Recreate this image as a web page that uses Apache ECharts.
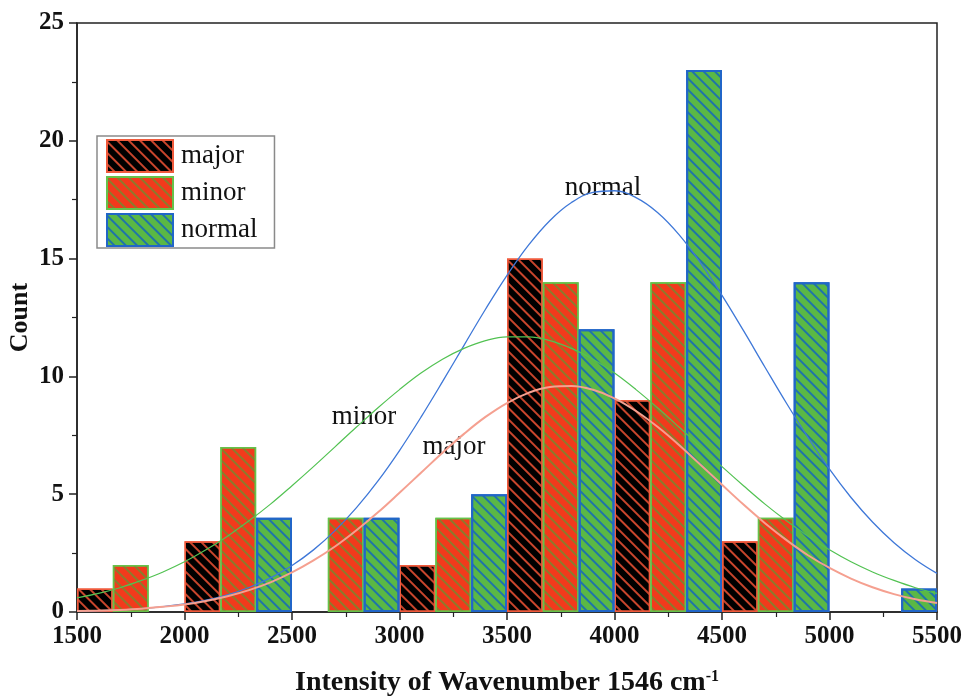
<!DOCTYPE html>
<html>
<head>
<meta charset="utf-8">
<script src="https://cdn.jsdelivr.net/npm/echarts@6/dist/echarts.min.js"></script>
<style>
html,body{margin:0;padding:0;background:#fff;}
#chart{width:964px;height:697px;}
</style>
</head>
<body>
<div id="chart"></div>
<script>
// ---- data ----
const binStarts = [1500, 2000, 2500, 3000, 3500, 4000, 4500, 5000];
const majorCounts  = [1, 3, 0, 2, 15, 9, 3, 0];
const minorCounts  = [2, 7, 4, 4, 14, 14, 4, 0];
const normalCounts = [0, 4, 4, 5, 12, 23, 14, 1];

const fitX = [1500,1600,1700,1800,1900,2000,2100,2200,2300,2400,2500,2600,2700,2800,2900,3000,3100,3200,3300,3400,3500,
              3600,3700,3800,3900,4000,4100,4200,4300,4400,4500,4600,4700,4800,4900,5000,5100,5200,5300,5400,5500];
const normalFit = [0.035,0.058,0.093,0.147,0.226,0.341,0.505,0.732,1.04,1.447,1.974,2.637,3.453,4.429,5.565,6.854,8.27,9.775,11.32,12.85,14.29,
                   15.57,16.62,17.38,17.81,17.88,17.59,16.96,16.02,14.82,13.44,11.94,10.39,8.86,7.41,6.06,4.86,3.82,2.94,2.22,1.64];
const minorFit  = [0.6,0.79,1.03,1.34,1.7,2.13,2.64,3.22,3.87,4.58,5.36,6.17,7.01,7.85,8.67,9.44,10.14,10.73,11.19,11.52,11.68,
                   11.68,11.52,11.19,10.73,10.14,9.44,8.67,7.85,7.01,6.17,5.36,4.58,3.87,3.22,2.64,2.13,1.7,1.34,1.03,0.79];
const majorFit  = [0.04,0.06,0.09,0.14,0.22,0.32,0.47,0.67,0.93,1.26,1.68,2.19,2.78,3.47,4.23,5.06,5.91,6.76,7.56,8.28,8.87,
                   9.3,9.55,9.59,9.43,9.07,8.53,7.86,7.09,6.25,5.4,4.56,3.77,3.05,2.41,1.87,1.42,1.05,0.76,0.54,0.38];

const fitLabels = [
  {name:'normal', x:3947, y:18.0},
  {name:'minor',  x:2835, y:8.28},
  {name:'major',  x:3253, y:7.0}
];

// ---- build ----
const subCats = [];
binStarts.forEach(b => { subCats.push(b + 'a', b + 'b', b + 'c'); });
function spread(arr, k) {
  const out = new Array(subCats.length).fill('-');
  arr.forEach((v, i) => { if (v) out[i * 3 + k] = v; });
  return out;
}
const pair = (xs, ys) => xs.map((x, i) => [x, ys[i]]);

const serif = 'Liberation Serif, Times New Roman, serif';
const txt = '#111';

function barSeries(name, data, fill, hatch, border, bw) {
  return {
    name, type: 'bar', xAxisIndex: 0, yAxisIndex: 0,
    data, barWidth: '100%', barGap: '-100%', barCategoryGap: '0%',
    z: 2,
    itemStyle: {
      color: fill, borderColor: border, borderWidth: bw,
      decal: { symbol: 'rect', symbolSize: 1, dashArrayX: [1, 0], dashArrayY: [2, 6],
               rotation: Math.PI / 4, color: hatch }
    },
    emphasis: { disabled: true }
  };
}
function fitSeries(name, ys, color, w, lbl) {
  return {
    name: name + ' fit', type: 'line', xAxisIndex: 1, yAxisIndex: 0,
    data: pair(fitX, ys), smooth: 0.4, showSymbol: false, z: 5,
    lineStyle: { color, width: w }, itemStyle: { color },
    emphasis: { disabled: true },
    markPoint: {
      symbol: 'circle', symbolSize: 0, silent: true,
      label: { show: true, position: 'inside', formatter: lbl.name,
               fontFamily: serif, fontSize: 27, color: txt },
      data: [{ coord: [lbl.x, lbl.y] }]
    }
  };
}

const chart = echarts.init(document.getElementById('chart'), null, { renderer: 'canvas' });
chart.setOption({
  animation: false,
  backgroundColor: '#ffffff',
  grid: { left: 77, right: 27, top: 23, bottom: 85, containLabel: false, outerBoundsMode: 'none',
          show: true, borderColor: '#222', borderWidth: 1.5, backgroundColor: 'transparent' },
  legend: {
    data: ['major', 'minor', 'normal'],
    orient: 'vertical', left: 97, top: 136,
    itemWidth: 66, itemHeight: 32, itemGap: 3,
    padding: [3, 17, 1, 9],
    borderColor: '#8a8a8a', borderWidth: 1.5,
    icon: 'rect',
    textStyle: { fontFamily: serif, fontSize: 27, color: txt, padding: [0, 0, 0, 3] },
    selectedMode: false
  },
  xAxis: [
    { type: 'category', data: subCats, show: false, boundaryGap: true, gridIndex: 0 },
    {
      type: 'value', min: 1500, max: 5500, interval: 500, position: 'bottom', gridIndex: 0,
      name: '{a|Intensity of Wavenumber 1546 cm}{s|-1}', nameLocation: 'middle', nameGap: 57,
      nameTextStyle: {
        rich: {
          a: { fontFamily: serif, fontWeight: 'bold', fontSize: 28, color: txt },
          s: { fontFamily: serif, fontWeight: 'bold', fontSize: 16, color: txt, padding: [0, 0, 12, 0] }
        }
      },
      axisLine: { show: true, onZero: false, lineStyle: { color: '#222', width: 1.5 } },
      axisTick: { show: true, length: 8, lineStyle: { color: '#222', width: 1.5 } },
      minorTick: { show: true, splitNumber: 2, length: 5, lineStyle: { color: '#222', width: 1.2 } },
      splitLine: { show: false },
      axisLabel: { margin: 12, fontFamily: serif, fontWeight: 'bold', fontSize: 25, color: txt,
                   formatter: v => String(v) }
    }
  ],
  yAxis: {
    type: 'value', min: 0, max: 25, interval: 5,
    name: 'Count', nameLocation: 'middle', nameGap: 44, nameMoveOverlap: false,
    nameTextStyle: { fontFamily: serif, fontWeight: 'bold', fontSize: 26, color: txt },
    axisLine: { show: true, lineStyle: { color: '#222', width: 1.5 } },
    axisTick: { show: true, length: 8, lineStyle: { color: '#222', width: 1.5 } },
    minorTick: { show: true, splitNumber: 2, length: 5, lineStyle: { color: '#222', width: 1.2 } },
    splitLine: { show: false },
    axisLabel: { margin: 13, fontFamily: serif, fontWeight: 'bold', fontSize: 25, color: txt,
                 formatter: v => String(v) }
  },
  series: [
    barSeries('major', spread(majorCounts, 0), '#000000', '#c8452c', '#f05a3c', 1.5),
    barSeries('minor', spread(minorCounts, 1), '#f23a1c', '#8c7a2c', '#66c24a', 1.5),
    barSeries('normal', spread(normalCounts, 2), '#5ab845', '#1f74a8', '#2166c8', 2),
    fitSeries('normal', normalFit, '#3f78d8', 1.3, fitLabels[0]),
    fitSeries('minor', minorFit, '#52c252', 1.2, fitLabels[1]),
    fitSeries('major', majorFit, '#f5a090', 2, fitLabels[2])
  ]
});
</script>
</body>
</html>
